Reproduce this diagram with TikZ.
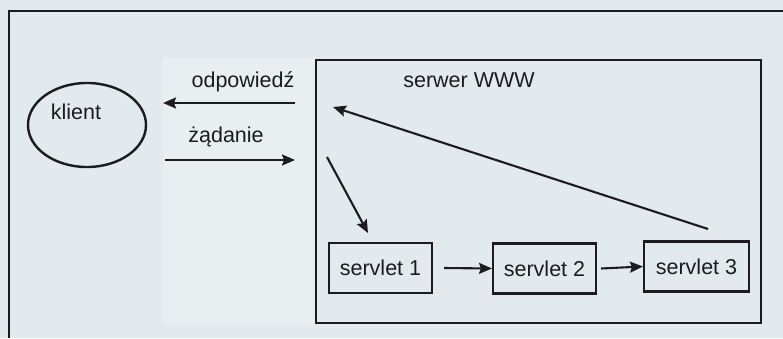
\documentclass[tikz,border=0pt]{standalone}
\usepackage{fontspec}
\setmainfont{Liberation Sans}
\usetikzlibrary{shapes.geometric,arrows.meta}
\definecolor{paper}{RGB}{226,234,237}
\definecolor{paperlight}{RGB}{233,239,241}
\definecolor{ink}{RGB}{28,28,30}
\tikzset{
  lbl/.style={font=\fontsize{21.5}{24}\selectfont, text=ink, inner sep=0pt},
  box/.style={draw=ink, line width=2.1pt, rectangle, inner sep=0pt},
  servletbox/.style={box, minimum width=103pt, minimum height=50pt,
    font=\fontsize{21.5}{24}\selectfont, text=ink},
  arr/.style={draw=ink, line width=2.1pt,
    -{Stealth[length=13pt,width=11pt,inset=2pt]}},
}
\begin{document}
\begin{tikzpicture}[x=1pt,y=1pt]
  % page background
  \fill[paper] (0,0) rectangle (783,338);
  \fill[paperlight] (163,13) rectangle (315,280);
  \useasboundingbox (0,0) rectangle (783,338);

  % outer frame (runs off the page to the right and bottom)
  \draw[ink, line width=2.3pt] (783,327) -- (9,327) -- (9,0);

  % client
  \node[ellipse, draw=ink, line width=2.4pt, minimum width=118pt,
        minimum height=84pt, inner sep=0pt] (klient) at (87,213) {};
  \node[lbl] (klienttxt) at (76,226) {klient};

  % web server with its servlets
  \node[box, minimum width=445pt, minimum height=263pt] (srv) at (538.5,146.5) {};
  \node[lbl] (srvtxt) at (469,258) {serwer WWW};
  \node[servletbox] (s1) at (380.5,70) {servlet 1};
  \node[servletbox] (s2) at (544.5,69.5) {servlet 2};
  \node[servletbox, minimum width=105pt] (s3) at (696.5,71.5) {servlet 3};

  % request / response between client and server
  \coordinate (respA) at (295,235);
  \coordinate (respB) at (163,235);
  \coordinate (reqA) at (165,178);
  \coordinate (reqB) at (295,178);
  \draw[arr] (respA) -- (respB);
  \draw[arr] (reqA) -- (reqB);
  \node[lbl] (resptxt) at (243,256) {odpowiedź};
  \node[lbl] (reqtxt) at (226,201) {żądanie};

  % flow inside the server
  \coordinate (inA) at (327,181);
  \coordinate (inB) at (368,105);
  \draw[arr] (inA) -- (inB);
  \coordinate (outA) at (708,109);
  \coordinate (outB) at (333,231);
  \draw[arr] (outA) -- (outB);
  \draw[arr] ([xshift=11pt]s1.east) -- (s2.west);
  \draw[arr] ([xshift=4pt]s2.east) -- (s3.west);
\end{tikzpicture}
\end{document}
